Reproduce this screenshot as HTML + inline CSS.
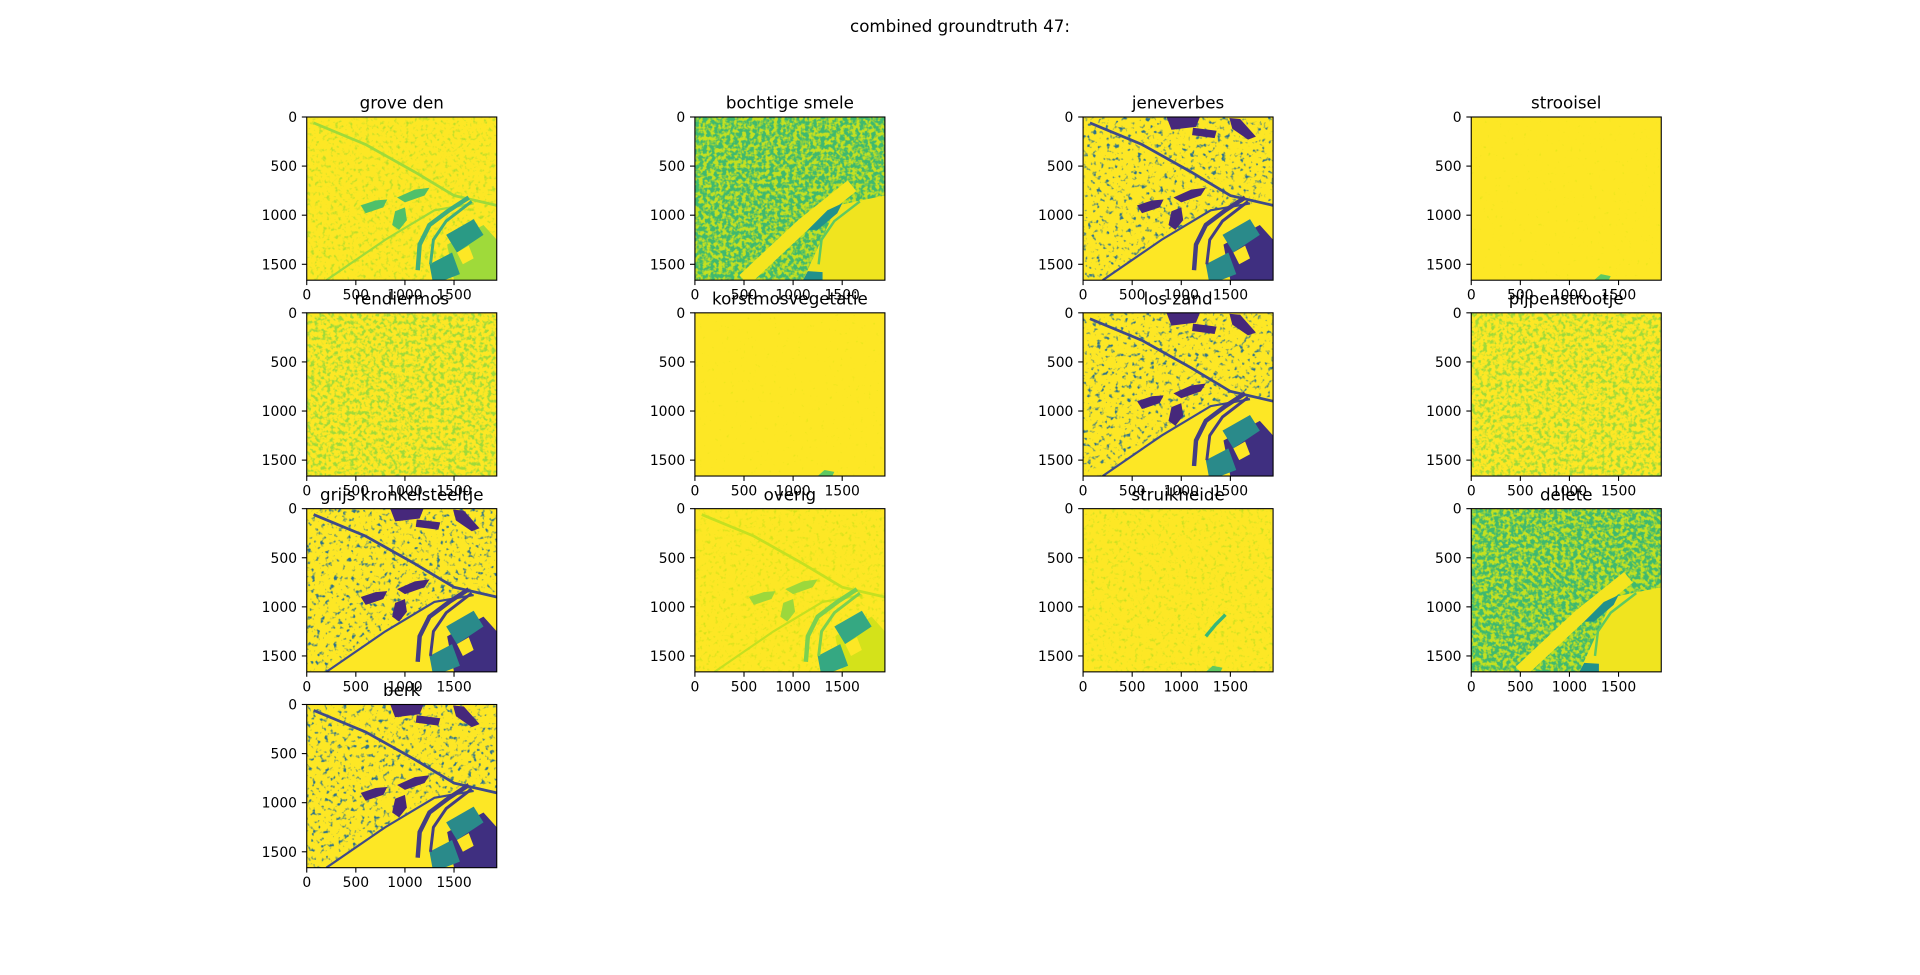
<!DOCTYPE html>
<html><head><meta charset="utf-8"><title>combined groundtruth 47</title>
<style>html,body{margin:0;padding:0;background:#fff}svg{display:block;font-family:"DejaVu Sans","Liberation Sans",sans-serif}</style>
</head><body>
<svg id="fig" width="1920" height="975" viewBox="0 0 1920 975" xmlns="http://www.w3.org/2000/svg">
<rect width="1920" height="975" fill="#fff"/>
<text x="960" y="32" text-anchor="middle" font-size="16.7" fill="#000">combined groundtruth 47:</text>
<defs id="defs"></defs>
</svg>
<script>
const panelTitles = ["grove den","bochtige smele","jeneverbes","strooisel","rendiermos","korstmosvegetatie","los zand","pijpenstrootje","grijs kronkelsteeltje","overig","struikheide","delete","berk"];
const panelTypes = ["B","C","A","D","L","D","A","L","A","O","S","C","A"];
const xTicks = [0,500,1000,1500];
const yTicks = [0,500,1000,1500];
const imgW = 1935, imgH = 1662;

const NS = "http://www.w3.org/2000/svg";
const svg = document.getElementById('fig');
const defs = document.getElementById('defs');
function mk(tag, attrs, parent){const e=document.createElementNS(NS,tag);for(const k in attrs)e.setAttribute(k,attrs[k]);(parent||svg).appendChild(e);return e;}
function pts(a){return a.map(p=>p.join(',')).join(' ');}

const blobs = {
  b1:[[850,0],[1190,0],[1150,100],[900,130]],
  b2:[[1120,110],[1360,140],[1340,215],[1110,185]],
  b3:[[1490,10],[1600,20],[1760,200],[1680,230],[1520,120]],
  b4:[[550,900],[700,850],[820,840],[780,920],[600,980]],
  b5:[[920,820],[1100,740],[1250,720],[1200,800],[1000,870]],
  b6:[[900,960],[1000,920],[1020,1050],[940,1150],[870,1100]],
  b7:[[1430,1300],[1800,1100],[1935,1250],[1935,1662],[1500,1662]]
};
const sq1=[[1420,1200],[1700,1040],[1800,1200],[1530,1380]];
const sq2=[[1250,1500],[1480,1380],[1560,1600],[1400,1662],[1280,1662]];
const sqY=[[1530,1380],[1650,1310],[1700,1440],[1590,1500]];
const l1=[[70,60],[600,280],[1100,560],[1500,800],[1935,900]];
const l2=[[200,1662],[800,1250],[1300,950],[1700,880]];
const r1=[[1650,820],[1450,950],[1250,1100],[1150,1300],[1130,1560]];
const r2=[[1680,860],[1420,1060],[1290,1250],[1260,1500]];
const upper=[[0,0],[1935,0],[1935,850],[1300,950],[800,1250],[200,1662],[0,1662]];

const pal = {
 A:{bg:'#fde725',speck:['#2c728e',5,-2.9,0.022],blob:'#46287b',sq:'#2a8a8a',dark:'#3f2f80',line:'#3e4a89',river:'#433d84'},
 B:{bg:'#fde725',speck:['#b8de29',4,-2.2,0.025],blob:'#4fc06a',sq:'#2a9a85',dark:'#9fda3a',line:'#9fda3a',river:'#3fae7e'},
 O:{bg:'#fde725',speck:['#d4e21a',4,-2.3,0.025],blob:'#9cd83c',sq:'#35a882',dark:'#d4e21a',line:'#c4e021',river:'#7ad151'},
 C:{bg:'#c4e021',speck:['#3fb96f',4.5,-1.7,0.025]},
 L:{bg:'#fde725',speck:['#a0da39',4.5,-2.1,0.025]},
 D:{bg:'#fde725',speck:['#e2e418',4,-2.8,0.025]},
 S:{bg:'#fde725',speck:['#c8e020',4,-2.3,0.025]}
};

let fid=0;
function noiseFilter(color,slope,icpt,freq){
  const id='f'+(fid++);
  const f=mk('filter',{id:id,x:0,y:0,width:1,height:1,filterUnits:'objectBoundingBox','color-interpolation-filters':'sRGB'},defs);
  mk('feTurbulence',{type:'fractalNoise',baseFrequency:freq,numOctaves:2,seed:fid*7+3},f);
  const c=document.createElementNS(NS,'feColorMatrix');c.setAttribute('type','matrix');
  const rgb=[1,3,5].map(i=>parseInt(color.substr(i,2),16)/255);
  c.setAttribute('values',`0 0 0 0 ${rgb[0]} 0 0 0 0 ${rgb[1]} 0 0 0 0 ${rgb[2]} ${slope} 0 0 0 ${icpt}`);
  f.appendChild(c);
  return id;
}

const left0=240, colW=323.48, colGap=388.17, top0=117, axH=163.2, rowGap=195.83;
const axW = axH*imgW/imgH;

panelTitles.forEach((title,i)=>{
  const r=Math.floor(i/4), c=i%4;
  const cx=left0+colW/2+c*colGap;
  const x0=cx-axW/2, y0=top0+r*rowGap;
  const sx=axW/imgW, sy=axH/imgH;
  const xs=v=>x0+v*sx, ys=v=>y0+v*sy;
  const t=panelTypes[i], p=pal[t];
  const ax=mk('g',{});
  
  
  const clipId='clip'+i;
  const cp=mk('clipPath',{id:clipId},defs);
  mk('rect',{x:0,y:0,width:imgW,height:imgH},cp);
  const img=mk('g',{transform:`translate(${x0},${y0}) scale(${sx},${sy})`,'clip-path':`url(#${clipId})`},ax);
  
  
  mk('rect',{x:0,y:0,width:imgW,height:imgH,fill:p.bg},img);
  const sp=p.speck, nf=noiseFilter(sp[0],sp[1],sp[2],sp[3]);
  if(t==='A'){
    const ucp=mk('clipPath',{id:'u'+i},defs);
    mk('polygon',{points:pts(upper)},ucp);
    mk('rect',{x:0,y:0,width:imgW,height:imgH,fill:'#fff',filter:`url(#${nf})`,'clip-path':`url(#u${i})`},img);
  } else {
    mk('rect',{x:0,y:0,width:imgW,height:imgH,fill:'#fff',filter:`url(#${nf})`},img);
  }
  if(t==='A'||t==='B'||t==='O'){
    mk('polyline',{points:pts(l1),fill:'none',stroke:p.line,'stroke-width':28},img);
    mk('polyline',{points:pts(l2),fill:'none',stroke:p.line,'stroke-width':22},img);
    ['b1','b2','b3','b4','b5','b6'].forEach(k=>{ if(t!=='A' && (k==='b1'||k==='b2'||k==='b3')) return; mk('polygon',{points:pts(blobs[k]),fill:p.blob},img);});
    mk('polygon',{points:pts(blobs.b7),fill:p.dark},img);
    mk('polygon',{points:pts(sq1),fill:p.sq},img);
    mk('polygon',{points:pts(sq2),fill:p.sq},img);
    mk('polygon',{points:pts(sqY),fill:'#fde725'},img);
    mk('polyline',{points:pts(r1),fill:'none',stroke:p.river,'stroke-width':45},img);
    mk('polyline',{points:pts(r2),fill:'none',stroke:p.river,'stroke-width':30},img);
  }
  if(t==='C'){
    mk('polygon',{points:pts([[1100,1662],[1450,900],[1935,800],[1935,1662]]),fill:'#f0e41f'},img);
    mk('polyline',{points:pts([[500,1662],[1100,1100],[1600,700]]),fill:'none',stroke:'#f5e51f','stroke-width':140},img);
    mk('polygon',{points:pts([[1150,1150],[1350,950],[1500,880],[1450,980],[1250,1150]]),fill:'#21918c'},img);
    mk('polygon',{points:pts([[1100,1662],[1150,1570],[1300,1580],[1300,1662]]),fill:'#21918c'},img);
    mk('polyline',{points:pts(r2),fill:'none',stroke:'#5ec962','stroke-width':25},img);
  }
  if(t==='D'||t==='S'){
    mk('polygon',{points:pts([[1250,1662],[1320,1600],[1420,1620],[1400,1662]]),fill:'#5ec962'},img);
  }
  if(t==='S'){
    mk('polyline',{points:pts([[1250,1300],[1350,1180],[1450,1080]]),fill:'none',stroke:'#35b779','stroke-width':35},img);
  }
  const sp2=mk('rect',{x:x0,y:y0,width:axW,height:axH,fill:'none',stroke:'#000','stroke-width':1.1},ax);
  
  
  xTicks.forEach(v=>{
    mk('line',{x1:xs(v),x2:xs(v),y1:y0+axH,y2:y0+axH+4.9,stroke:'#000','stroke-width':1.1},ax);
    const tl=mk('text',{x:xs(v),y:y0+axH+19.5,'text-anchor':'middle','font-size':13.9,fill:'#000'},ax);
    tl.textContent=v;
    
    
  });
  yTicks.forEach(v=>{
    mk('line',{x1:x0-4.9,x2:x0,y1:ys(v),y2:ys(v),stroke:'#000','stroke-width':1.1},ax);
    const tl=mk('text',{x:x0-9.7,y:ys(v)+5,'text-anchor':'end','font-size':13.9,fill:'#000'},ax);
    tl.textContent=v;
    
    
  });
  const tt=mk('text',{x:x0+axW/2,y:y0-8.3,'text-anchor':'middle','font-size':16.7,fill:'#000'},ax);
  tt.textContent=title;
  
  
});
</script>
</body></html>
